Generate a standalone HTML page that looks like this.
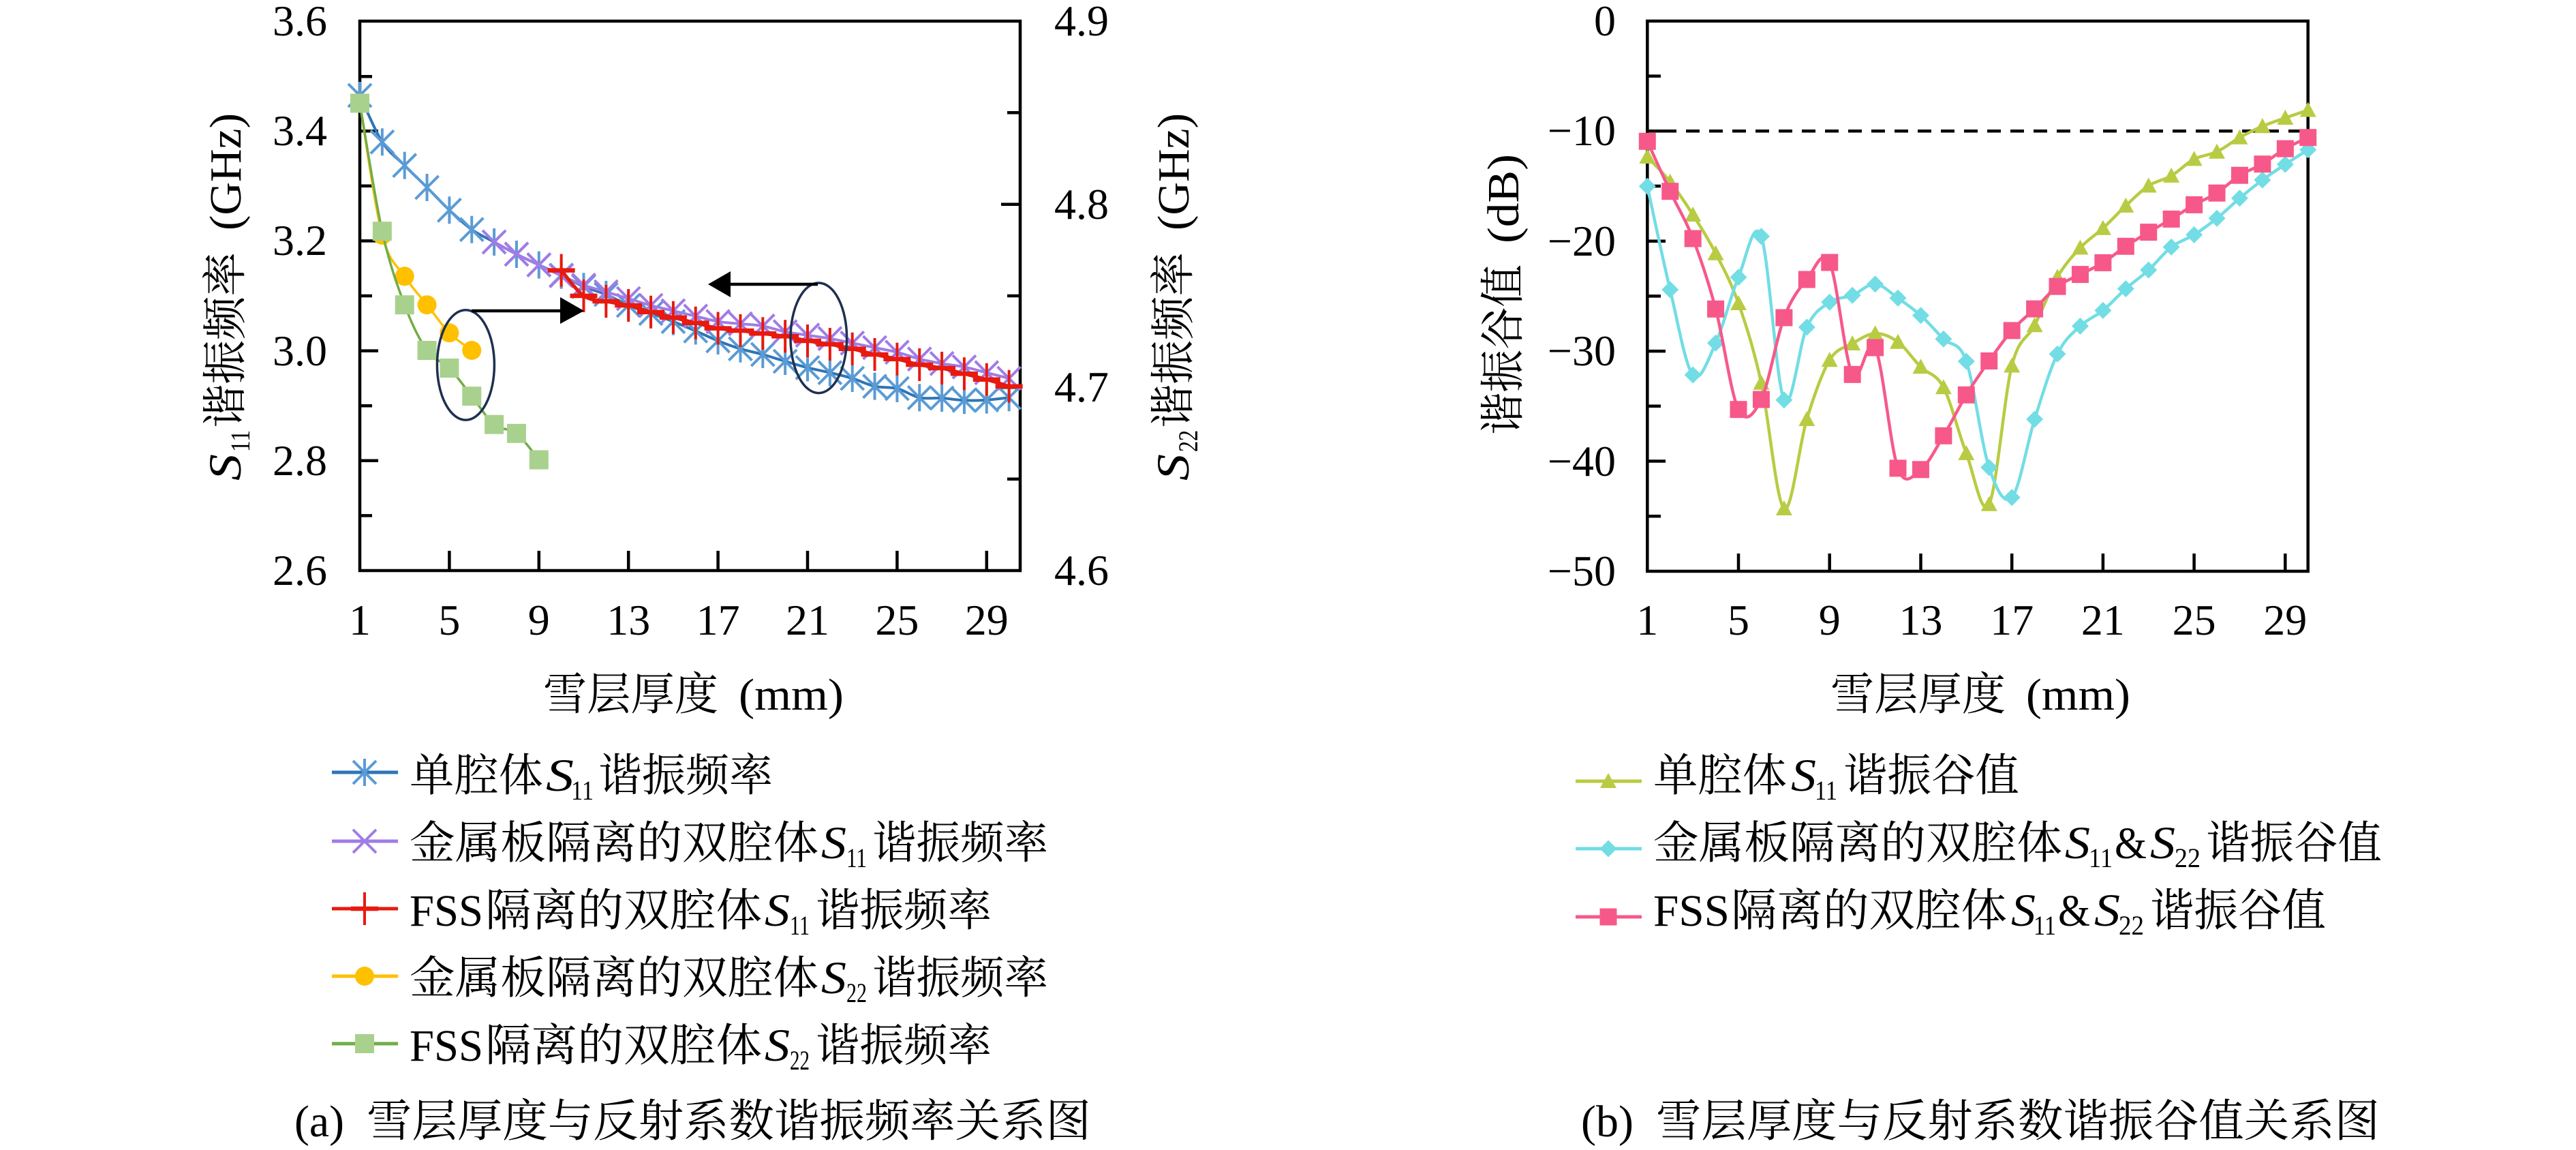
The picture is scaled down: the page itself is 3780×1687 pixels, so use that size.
<!DOCTYPE html>
<html><head><meta charset="utf-8">
<style>
html,body{margin:0;padding:0;background:#fff;}
svg{display:block;}
text{font-family:"Liberation Serif","Noto Serif CJK SC",serif;fill:#000;}
.t{font-size:64px;}
.c{font-size:66px;}
.it{font-style:italic;font-size:68px;}
.sb{font-size:40px;}
</style></head><body>
<svg id="s" width="3780" height="1687" viewBox="0 0 3780 1687" xmlns="http://www.w3.org/2000/svg">
<rect width="3780" height="1687" fill="#fff"/>

<!-- LEFT CHART FRAME -->
<g stroke="#000" stroke-width="4.5" fill="none">
<rect x="528" y="31" width="969" height="806"/>
<!-- left y ticks -->
<line x1="528" y1="112.2" x2="546" y2="112.2"/>
<line x1="528" y1="192.2" x2="555" y2="192.2"/>
<line x1="528" y1="272.8" x2="546" y2="272.8"/>
<line x1="528" y1="353.4" x2="555" y2="353.4"/>
<line x1="528" y1="434" x2="546" y2="434"/>
<line x1="528" y1="514.6" x2="555" y2="514.6"/>
<line x1="528" y1="595.2" x2="546" y2="595.2"/>
<line x1="528" y1="675.8" x2="555" y2="675.8"/>
<line x1="528" y1="756.4" x2="546" y2="756.4"/>
<!-- right y ticks -->
<line x1="1497" y1="165.3" x2="1478" y2="165.3"/>
<line x1="1497" y1="299.7" x2="1469" y2="299.7"/>
<line x1="1497" y1="434" x2="1478" y2="434"/>
<line x1="1497" y1="568.3" x2="1469" y2="568.3"/>
<line x1="1497" y1="702.7" x2="1478" y2="702.7"/>
<!-- x ticks -->
<line x1="659.4" y1="837" x2="659.4" y2="808"/>
<line x1="790.8" y1="837" x2="790.8" y2="808"/>
<line x1="922.2" y1="837" x2="922.2" y2="808"/>
<line x1="1053.6" y1="837" x2="1053.6" y2="808"/>
<line x1="1185" y1="837" x2="1185" y2="808"/>
<line x1="1316.4" y1="837" x2="1316.4" y2="808"/>
<line x1="1447.8" y1="837" x2="1447.8" y2="808"/>
</g>

<!-- RIGHT CHART FRAME -->
<g stroke="#000" stroke-width="4.5" fill="none">
<rect x="2417.3" y="30.9" width="969.4" height="807.1"/>
<line x1="2417.3" y1="111.6" x2="2437" y2="111.6"/>
<line x1="2417.3" y1="192.3" x2="2444" y2="192.3"/>
<line x1="2417.3" y1="273" x2="2437" y2="273"/>
<line x1="2417.3" y1="353.7" x2="2444" y2="353.7"/>
<line x1="2417.3" y1="434.4" x2="2437" y2="434.4"/>
<line x1="2417.3" y1="515.1" x2="2444" y2="515.1"/>
<line x1="2417.3" y1="595.8" x2="2437" y2="595.8"/>
<line x1="2417.3" y1="676.5" x2="2444" y2="676.5"/>
<line x1="2417.3" y1="757.2" x2="2437" y2="757.2"/>
<line x1="2551" y1="838" x2="2551" y2="812"/>
<line x1="2684.7" y1="838" x2="2684.7" y2="812"/>
<line x1="2818.5" y1="838" x2="2818.5" y2="812"/>
<line x1="2952.2" y1="838" x2="2952.2" y2="812"/>
<line x1="3085.9" y1="838" x2="3085.9" y2="812"/>
<line x1="3219.6" y1="838" x2="3219.6" y2="812"/>
<line x1="3353.3" y1="838" x2="3353.3" y2="812"/>
</g>
<line x1="2440" y1="192.3" x2="3386" y2="192.3" stroke="#000" stroke-width="4.5" stroke-dasharray="20 14"/>

<g id="data"></g>

<!-- annotations -->
<g stroke="#1F3050" stroke-width="3.5" fill="none">
<ellipse cx="683.4" cy="535.4" rx="42" ry="80.7"/>
<ellipse cx="1201.3" cy="495.8" rx="41.3" ry="80.8"/>
</g>
<g stroke="#000" stroke-width="4.5">
<line x1="692" y1="456" x2="825" y2="456"/>
<line x1="1200" y1="417" x2="1070" y2="417"/>
</g>
<polygon points="822,436 857,456 822,475" fill="#000"/>
<polygon points="1072,398 1039,417 1072,436" fill="#000"/>

<!-- LEFT CHART TICK LABELS -->
<g class="t" text-anchor="end">
<text x="480" y="52">3.6</text>
<text x="480" y="213">3.4</text>
<text x="480" y="374">3.2</text>
<text x="480" y="536">3.0</text>
<text x="480" y="697">2.8</text>
<text x="480" y="858">2.6</text>
</g>
<g class="t" text-anchor="start">
<text x="1547" y="52">4.9</text>
<text x="1547" y="321">4.8</text>
<text x="1547" y="589">4.7</text>
<text x="1547" y="858">4.6</text>
</g>
<g class="t" text-anchor="middle">
<text x="528" y="931">1</text>
<text x="659.4" y="931">5</text>
<text x="790.8" y="931">9</text>
<text x="922.2" y="931">13</text>
<text x="1053.6" y="931">17</text>
<text x="1185" y="931">21</text>
<text x="1316.4" y="931">25</text>
<text x="1447.8" y="931">29</text>
</g>

<!-- RIGHT CHART TICK LABELS -->
<g class="t" text-anchor="end">
<text x="2371" y="52">0</text>
<text x="2371" y="213">−10</text>
<text x="2371" y="375">−20</text>
<text x="2371" y="536">−30</text>
<text x="2371" y="698">−40</text>
<text x="2371" y="859">−50</text>
</g>
<g class="t" text-anchor="middle">
<text x="2417.3" y="931">1</text>
<text x="2551" y="931">5</text>
<text x="2684.7" y="931">9</text>
<text x="2818.5" y="931">13</text>
<text x="2952.2" y="931">17</text>
<text x="3085.9" y="931">21</text>
<text x="3219.6" y="931">25</text>
<text x="3353.3" y="931">29</text>
</g>

<!-- AXIS TITLES -->
<text class="c" x="797" y="1041" textLength="257" lengthAdjust="spacingAndGlyphs">雪层厚度</text>
<text class="c" x="1084" y="1041" textLength="154" lengthAdjust="spacingAndGlyphs">(mm)</text>
<text class="c" x="2686" y="1041" textLength="257" lengthAdjust="spacingAndGlyphs">雪层厚度</text>
<text class="c" x="2973" y="1041" textLength="153" lengthAdjust="spacingAndGlyphs">(mm)</text>

<g transform="translate(353,705) rotate(-90)">
<text class="it" x="0" y="0" textLength="39" lengthAdjust="spacingAndGlyphs">S</text>
<text class="sb" x="42" y="13" textLength="32" lengthAdjust="spacingAndGlyphs">11</text>
<text class="c" x="77" y="0" textLength="258" lengthAdjust="spacingAndGlyphs">谐振频率</text>
<text class="c" x="367" y="0" textLength="172" lengthAdjust="spacingAndGlyphs">(GHz)</text>
</g>
<g transform="translate(1744,705) rotate(-90)">
<text class="it" x="0" y="0" textLength="39" lengthAdjust="spacingAndGlyphs">S</text>
<text class="sb" x="42" y="13" textLength="32" lengthAdjust="spacingAndGlyphs">22</text>
<text class="c" x="77" y="0" textLength="258" lengthAdjust="spacingAndGlyphs">谐振频率</text>
<text class="c" x="367" y="0" textLength="172" lengthAdjust="spacingAndGlyphs">(GHz)</text>
</g>
<g transform="translate(2228,638) rotate(-90)">
<text class="c" x="0" y="0" textLength="250" lengthAdjust="spacingAndGlyphs">谐振谷值</text>
<text class="c" x="281" y="0" textLength="131" lengthAdjust="spacingAndGlyphs">(dB)</text>
</g>

<!-- LEFT LEGEND -->
<g class="c">
<text x="601" y="1160" textLength="196" lengthAdjust="spacingAndGlyphs">单腔体</text>
<text class="it" x="801" y="1160" textLength="41" lengthAdjust="spacingAndGlyphs">S</text>
<text class="sb" x="838" y="1173" textLength="33" lengthAdjust="spacingAndGlyphs">11</text>
<text x="878" y="1160" textLength="256" lengthAdjust="spacingAndGlyphs">谐振频率</text>

<text x="601" y="1259" textLength="600" lengthAdjust="spacingAndGlyphs">金属板隔离的双腔体</text>
<text class="it" x="1205" y="1259" textLength="37" lengthAdjust="spacingAndGlyphs">S</text>
<text class="sb" x="1242" y="1272" textLength="30" lengthAdjust="spacingAndGlyphs">11</text>
<text x="1280" y="1259" textLength="258" lengthAdjust="spacingAndGlyphs">谐振频率</text>

<text x="601" y="1358" textLength="108" lengthAdjust="spacingAndGlyphs">FSS</text>
<text x="712" y="1358" textLength="406" lengthAdjust="spacingAndGlyphs">隔离的双腔体</text>
<text class="it" x="1122" y="1358" textLength="37" lengthAdjust="spacingAndGlyphs">S</text>
<text class="sb" x="1159" y="1371" textLength="29" lengthAdjust="spacingAndGlyphs">11</text>
<text x="1197" y="1358" textLength="258" lengthAdjust="spacingAndGlyphs">谐振频率</text>

<text x="601" y="1457" textLength="600" lengthAdjust="spacingAndGlyphs">金属板隔离的双腔体</text>
<text class="it" x="1205" y="1457" textLength="37" lengthAdjust="spacingAndGlyphs">S</text>
<text class="sb" x="1242" y="1470" textLength="30" lengthAdjust="spacingAndGlyphs">22</text>
<text x="1280" y="1457" textLength="258" lengthAdjust="spacingAndGlyphs">谐振频率</text>

<text x="601" y="1556" textLength="108" lengthAdjust="spacingAndGlyphs">FSS</text>
<text x="712" y="1556" textLength="406" lengthAdjust="spacingAndGlyphs">隔离的双腔体</text>
<text class="it" x="1122" y="1556" textLength="37" lengthAdjust="spacingAndGlyphs">S</text>
<text class="sb" x="1159" y="1569" textLength="29" lengthAdjust="spacingAndGlyphs">22</text>
<text x="1197" y="1556" textLength="258" lengthAdjust="spacingAndGlyphs">谐振频率</text>
</g>

<!-- RIGHT LEGEND -->
<g class="c">
<text x="2426" y="1160" textLength="196" lengthAdjust="spacingAndGlyphs">单腔体</text>
<text class="it" x="2628" y="1160" textLength="37" lengthAdjust="spacingAndGlyphs">S</text>
<text class="sb" x="2663" y="1173" textLength="33" lengthAdjust="spacingAndGlyphs">11</text>
<text x="2705" y="1160" textLength="258" lengthAdjust="spacingAndGlyphs">谐振谷值</text>

<text x="2426" y="1259" textLength="600" lengthAdjust="spacingAndGlyphs">金属板隔离的双腔体</text>
<text class="it" x="3030" y="1259" textLength="37" lengthAdjust="spacingAndGlyphs">S</text>
<text class="sb" x="3065" y="1272" textLength="35" lengthAdjust="spacingAndGlyphs">11</text>
<text x="3103" y="1259" textLength="47" lengthAdjust="spacingAndGlyphs">&amp;</text>
<text class="it" x="3155" y="1259" textLength="37" lengthAdjust="spacingAndGlyphs">S</text>
<text class="sb" x="3191" y="1272" textLength="38" lengthAdjust="spacingAndGlyphs">22</text>
<text x="3237" y="1259" textLength="258" lengthAdjust="spacingAndGlyphs">谐振谷值</text>

<text x="2426" y="1358" textLength="112" lengthAdjust="spacingAndGlyphs">FSS</text>
<text x="2540" y="1358" textLength="405" lengthAdjust="spacingAndGlyphs">隔离的双腔体</text>
<text class="it" x="2951" y="1358" textLength="36" lengthAdjust="spacingAndGlyphs">S</text>
<text class="sb" x="2984" y="1371" textLength="33" lengthAdjust="spacingAndGlyphs">11</text>
<text x="3020" y="1358" textLength="47" lengthAdjust="spacingAndGlyphs">&amp;</text>
<text class="it" x="3073" y="1358" textLength="38" lengthAdjust="spacingAndGlyphs">S</text>
<text class="sb" x="3109" y="1371" textLength="37" lengthAdjust="spacingAndGlyphs">22</text>
<text x="3155" y="1358" textLength="258" lengthAdjust="spacingAndGlyphs">谐振谷值</text>
</g>

<!-- CAPTIONS -->
<g class="c">
<text x="432" y="1667" textLength="73" lengthAdjust="spacingAndGlyphs">(a)</text>
<text x="538" y="1667" textLength="1063" lengthAdjust="spacingAndGlyphs">雪层厚度与反射系数谐振频率关系图</text>
<text x="2320" y="1667" textLength="77" lengthAdjust="spacingAndGlyphs">(b)</text>
<text x="2430" y="1667" textLength="1062" lengthAdjust="spacingAndGlyphs">雪层厚度与反射系数谐振谷值关系图</text>
</g>
</svg>

<script>
(function(){
const NS="http://www.w3.org/2000/svg";
const layer=document.getElementById('data');
function el(tag,attrs){const e=document.createElementNS(NS,tag);for(const k in attrs)e.setAttribute(k,attrs[k]);layer.appendChild(e);return e;}
function smooth(p){let d="M"+p[0][0]+","+p[0][1];for(let i=0;i<p.length-1;i++){const p0=p[Math.max(i-1,0)],p1=p[i],p2=p[i+1],p3=p[Math.min(i+2,p.length-1)];const c1x=p1[0]+(p2[0]-p0[0])/6,c1y=p1[1]+(p2[1]-p0[1])/6;const c2x=p2[0]-(p3[0]-p1[0])/6,c2y=p2[1]-(p3[1]-p1[1])/6;d+="C"+c1x.toFixed(2)+","+c1y.toFixed(2)+" "+c2x.toFixed(2)+","+c2y.toFixed(2)+" "+p2[0].toFixed(2)+","+p2[1].toFixed(2);}return d;}
function line(x1,y1,x2,y2,c,w){el('line',{x1:x1,y1:y1,x2:x2,y2:y2,stroke:c,'stroke-width':w});}
const M={
 ast:(x,y)=>{const c="#5B9BD5";line(x,y-20,x,y+20,c,4);line(x-17,y-17,x+17,y+17,c,4);line(x-17,y+17,x+17,y-17,c,4);},
 xm:(x,y)=>{const c="#A07CE6";line(x-17,y-17,x+17,y+17,c,4);line(x-17,y+17,x+17,y-17,c,4);},
 plus:(x,y)=>{const c="#E8190E";line(x,y-24,x,y+24,c,4);line(x-20,y,x+20,y,c,6.5);},
 circ:(x,y)=>{el('circle',{cx:x,cy:y,r:14,fill:"#FFC000"});},
 sqg:(x,y)=>{el('rect',{x:x-14,y:y-14,width:28,height:28,fill:"#A9D18E"});},
 tri:(x,y)=>{el('polygon',{points:`${x},${y-12} ${x-12},${y+10} ${x+12},${y+10}`,fill:"#B9CB42"});},
 dia:(x,y)=>{el('polygon',{points:`${x},${y-12.5} ${x+12.5},${y} ${x},${y+12.5} ${x-12.5},${y}`,fill:"#72DDE5"});},
 sqp:(x,y)=>{el('rect',{x:x-12.5,y:y-12.5,width:25,height:25,fill:"#F7588A"});}
};
function series(xf,start,ys,lc,lw,mk){const pts=ys.map((y,i)=>[xf(start+i),y]);el('path',{d:smooth(pts),fill:"none",stroke:lc,'stroke-width':lw,'stroke-linejoin':'round'});pts.forEach(p=>M[mk](p[0],p[1]));}
const xL=n=>528+(n-1)*32.85;
const xR=n=>2417.3+(n-1)*33.43;
// left chart
series(xL,1,[140,208.3,242.7,275,308.3,336.7,355,373,388.6,403.7,420.3,432,448,459.8,471.7,485.5,500,511.7,520,530,539.3,546.7,555,566.7,570,583.3,584,587.3,586.7,583.3],"#2E75B6",4,'ast');
series(xL,7,[355,372.8,388.6,404.5,418.3,428.2,438,448,455.9,463.8,471.7,475,478.3,486.7,491.7,496.7,503.3,510,516.7,526.7,533.3,538.3,546.7,555],"#A07CE6",4,'xm');
series(xL,10,[396.6,434,442,448,457.8,465.8,473.7,481.6,485,489.3,493.3,500,505,511.7,520,526.7,535,540,548.3,556.7,566.7],"#E8190E",5,'plus');
series(xL,1,[151.4,345,405.3,447.2,488.3,514],"#FFC000",3.5,'circ');
series(xL,1,[151.4,339.2,447.2,514,540,581.2,622.7,635.8,674.5],"#70AD47",3.5,'sqg');
// right chart
series(xR,1,[230,266.7,315,371.7,445,561.7,746,615,528.3,504,489.3,501.7,538.3,568.3,665,739.8,536.5,477.2,406.4,363.5,334.8,301.9,272.5,257.9,233.4,222.7,201.7,185.2,173,161.5],"#B9CB42",4.5,'tri');
series(xR,1,[273.3,425,550,503.3,406.7,346.7,586.7,480,443.3,433.3,416.7,437.3,462.7,497.3,530,685.8,729.8,615,519.3,478.4,455.4,423.6,396.1,362.4,344.4,320.3,290.8,264,241.1,219.7],"#72DDE5",4.5,'dia');
series(xR,1,[207.3,280.7,350,453.3,600.7,586,466,410,385,549.3,510,686.9,688.8,639.3,579.3,529.5,484.9,453.1,420.2,402.6,385.4,361.3,340.6,321.4,300.4,283.2,257.2,240.7,218.1,201.7],"#F7588A",4.5,'sqp');
// legends left
const LL=[[1133,"#2E75B6",'ast'],[1234,"#A07CE6",'xm'],[1333,"#E8190E",'plus'],[1432,"#FFC000",'circ'],[1531,"#70AD47",'sqg']];
LL.forEach(r=>{line(487,r[0],584,r[0],r[1],5);M[r[2]](535,r[0]);});
const RL=[[1146,"#B9CB42",'tri'],[1245,"#72DDE5",'dia'],[1345,"#F7588A",'sqp']];
RL.forEach(r=>{line(2312,r[0],2409,r[0],r[1],5);M[r[2]](2360,r[0]);});
})();
</script>
</body></html>
